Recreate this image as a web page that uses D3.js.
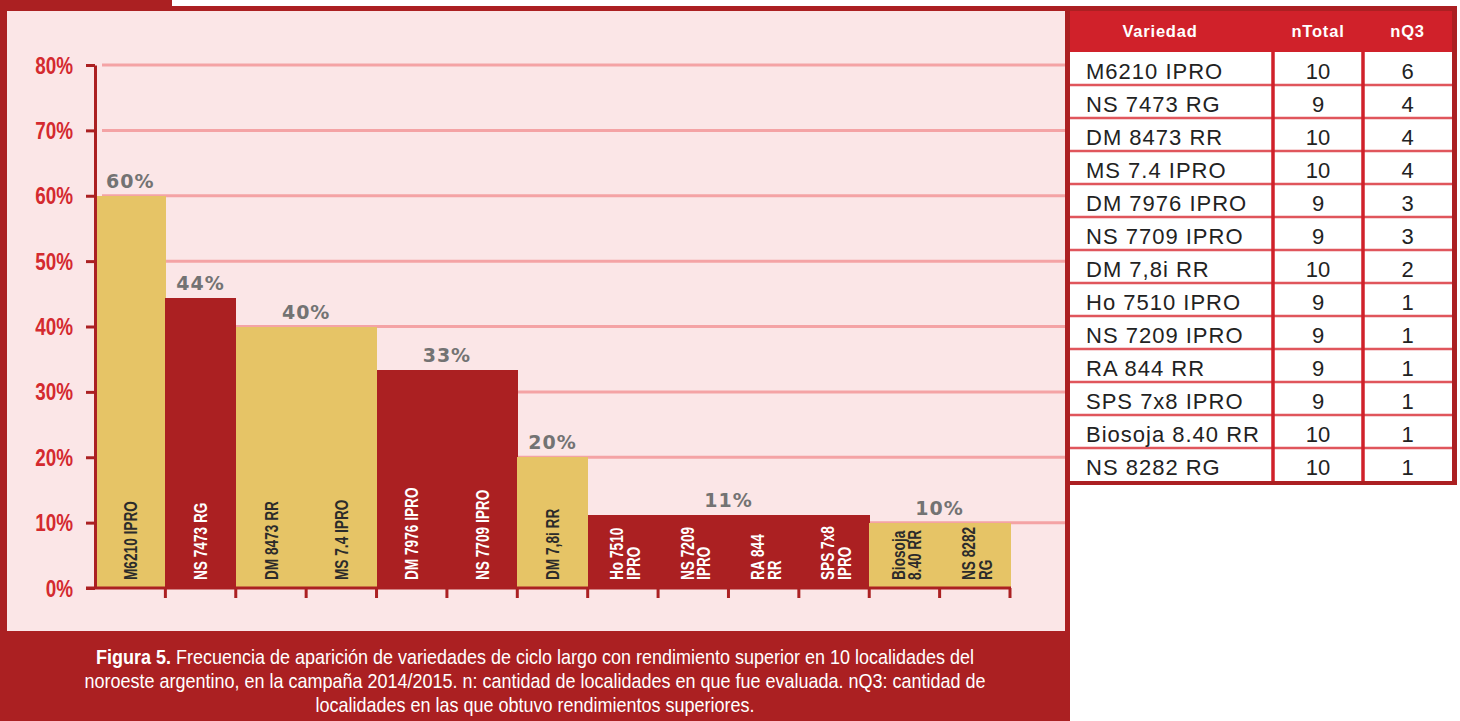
<!DOCTYPE html>
<html>
<head>
<meta charset="utf-8">
<script src="https://cdn.jsdelivr.net/npm/d3@7"></script>
<style>
  body { margin: 0; background: #fff; }
  svg { display: block; }
</style>
</head>
<body>
<svg width="1460" height="721"></svg>
<script>
// data
var varieties = ['M6210 IPRO', 'NS 7473 RG', 'DM 8473 RR', 'MS 7.4 IPRO', 'DM 7976 IPRO', 'NS 7709 IPRO',
  'DM 7,8i RR', 'Ho 7510 IPRO', 'NS 7209 IPRO', 'RA 844 RR', 'SPS 7x8 IPRO', 'Biosoja 8.40 RR', 'NS 8282 RG'];
var barLabels = [['M6210 IPRO'], ['NS 7473 RG'], ['DM 8473 RR'], ['MS 7.4 IPRO'], ['DM 7976 IPRO'], ['NS 7709 IPRO'],
  ['DM 7,8i RR'], ['Ho 7510', 'IPRO'], ['NS 7209', 'IPRO'], ['RA 844', 'RR'], ['SPS 7x8', 'IPRO'], ['Biosoja', '8.40 RR'], ['NS 8282', 'RG']];
var frequency = [60, 44.4, 40, 40, 33.3, 33.3, 20, 11.1, 11.1, 11.1, 11.1, 10, 10];
var nTotal = [10, 9, 10, 10, 9, 9, 10, 9, 9, 9, 9, 10, 10];
var nQ3 = [6, 4, 4, 4, 3, 3, 2, 1, 1, 1, 1, 1, 1];
var yTicks = [0, 10, 20, 30, 40, 50, 60, 70, 80];
var tableHeader = ['Variedad', 'nTotal', 'nQ3'];
var captionLines = [
  ['Figura 5.', ' Frecuencia de aparición de variedades de ciclo largo con rendimiento superior en 10 localidades del'],
  ['', 'noroeste argentino, en la campaña 2014/2015. n: cantidad de localidades en que fue evaluada. nQ3: cantidad de'],
  ['', 'localidades en las que obtuvo rendimientos superiores.']
];

var darkRed = '#ab2022';
var brightRed = '#d0212a';
var gold = '#e6c466';
var sans = '"Liberation Sans", Arial, sans-serif';
var squeeze = 0.82; // no narrow font here, so squeeze Liberation Sans

var svg = d3.select('svg');

// frame
svg.append('rect').attr('x', 0).attr('y', 0).attr('width', 172).attr('height', 12).attr('fill', darkRed);
svg.append('rect').attr('x', 0).attr('y', 6).attr('width', 1457).attr('height', 5).attr('fill', '#b3282b');
svg.append('rect').attr('x', 0).attr('y', 6).attr('width', 1070).attr('height', 715).attr('fill', darkRed);
svg.append('rect').attr('x', 7).attr('y', 11).attr('width', 1058).attr('height', 620).attr('fill', '#fbe6e7');

var x = d3.scaleBand().domain(varieties).range([95, 1010]).padding(0);
var y = d3.scaleLinear().domain([0, 80]).range([588, 65]);
var bw = x.bandwidth();

// gridlines
svg.append('g').selectAll('line').data(yTicks.filter(function (d) { return d > 0; })).enter().append('line')
  .attr('x1', 102).attr('x2', 1065).attr('y1', function (d) { return y(d); }).attr('y2', function (d) { return y(d); })
  .attr('stroke', '#f4a3a5').attr('stroke-width', 3);

// groups of consecutive equal values
var groups = [];
frequency.forEach(function (v, i) {
  var last = groups[groups.length - 1];
  if (last && last.value === v) last.end = i;
  else groups.push({ value: v, start: i, end: i });
});
var groupOf = frequency.map(function (v, i) {
  return groups.findIndex(function (g) { return i >= g.start && i <= g.end; });
});
function barColor(i) { return groupOf[i] % 2 === 0 ? gold : darkRed; }

// bars
svg.append('g').selectAll('rect').data(varieties).enter().append('rect')
  .attr('x', function (d) { return x(d); })
  .attr('y', function (d, i) { return y(frequency[i]); })
  .attr('width', bw + 0.6)
  .attr('height', function (d, i) { return y(0) - y(frequency[i]); })
  .attr('fill', function (d, i) { return barColor(i); })
  .attr('shape-rendering', 'crispEdges');

// labels inside bars
var lab = svg.append('g').selectAll('text').data(varieties).enter().append('text')
  .attr('transform', function (d) { return 'translate(' + (x(d) + bw / 2) + ',580) rotate(-90) scale(0.78,1)'; })
  .attr('font-family', sans).attr('font-weight', 'bold').attr('font-size', 17.5)
  .attr('fill', function (d, i) { return barColor(i) === gold ? '#2b2b2b' : '#ffffff'; })
  .attr('dominant-baseline', 'central');
lab.each(function (d, i) {
  var lines = barLabels[i];
  var t = d3.select(this);
  lines.forEach(function (s, k) {
    t.append('tspan').attr('x', 0).attr('y', (k - (lines.length - 1) / 2) * 16.5 + (lines.length > 1 ? 2 : 0)).text(s);
  });
});

// value labels
svg.append('g').selectAll('text').data(groups).enter().append('text')
  .attr('x', function (g) { return (x(varieties[g.start]) + x(varieties[g.end]) + bw) / 2; })
  .attr('y', function (g) { return y(g.value) - 8; })
  .attr('text-anchor', 'middle')
  .attr('font-family', '"DejaVu Sans", sans-serif').attr('font-weight', 'bold').attr('font-size', 19)
  .attr('letter-spacing', 1)
  .attr('fill', '#737373')
  .text(function (g) { return Math.round(g.value) + '%'; });

// y axis (labels drawn separately so they can be squeezed)
var yAxis = svg.append('g').attr('transform', 'translate(95,0)')
  .call(d3.axisLeft(y).tickValues(yTicks).tickSize(9).tickSizeOuter(0).tickFormat(''));
yAxis.select('.domain').attr('stroke', darkRed).attr('stroke-width', 3);
yAxis.selectAll('.tick line').attr('stroke', darkRed).attr('stroke-width', 3);
svg.append('g').selectAll('text').data(yTicks).enter().append('text')
  .attr('transform', function (d) { return 'translate(73,' + y(d) + ') scale(' + squeeze + ',1)'; })
  .attr('dy', 8.5).attr('text-anchor', 'end')
  .attr('fill', '#d42a2f').attr('font-family', sans).attr('font-weight', 'bold').attr('font-size', 23)
  .text(function (d) { return d + '%'; });

// x axis line and boundary ticks
svg.append('line').attr('x1', 86).attr('x2', 1011).attr('y1', y(0)).attr('y2', y(0))
  .attr('stroke', darkRed).attr('stroke-width', 3);
svg.append('g').selectAll('line').data(varieties).enter().append('line')
  .attr('x1', function (d) { return x(d) + bw; }).attr('x2', function (d) { return x(d) + bw; })
  .attr('y1', y(0)).attr('y2', y(0) + 10)
  .attr('stroke', darkRed).attr('stroke-width', 3);

// table
var tx0 = 1070, tx1 = 1452, ty0 = 11, headH = 41, rowH = 33;
var colX = [tx0, 1273, 1363, tx1];
svg.append('rect').attr('x', 1065).attr('y', 6).attr('width', 392).attr('height', 479).attr('fill', darkRed);
svg.append('rect').attr('x', tx0).attr('y', ty0).attr('width', tx1 - tx0).attr('height', headH).attr('fill', brightRed);
svg.append('rect').attr('x', tx0).attr('y', ty0 + headH).attr('width', tx1 - tx0).attr('height', rowH * varieties.length)
  .attr('fill', '#ffffff');

svg.append('g').selectAll('text').data(tableHeader).enter().append('text')
  .attr('x', function (d, i) { return i === 0 ? 1160 : (colX[i] + colX[i + 1]) / 2; })
  .attr('y', 37).attr('text-anchor', 'middle')
  .attr('font-family', sans).attr('font-weight', 'bold').attr('font-size', 16.5)
  .attr('letter-spacing', 0.8).attr('fill', '#ffffff').text(function (d) { return d; });

// row separators
svg.append('g').selectAll('line').data(varieties.slice(1)).enter().append('line')
  .attr('x1', tx0).attr('x2', tx1)
  .attr('y1', function (d, i) { return ty0 + headH + rowH * (i + 1); })
  .attr('y2', function (d, i) { return ty0 + headH + rowH * (i + 1); })
  .attr('stroke', '#e0565c').attr('stroke-width', 2.5);
// column dividers
svg.append('g').selectAll('line').data([colX[1], colX[2]]).enter().append('line')
  .attr('x1', function (d) { return d; }).attr('x2', function (d) { return d; })
  .attr('y1', ty0 + headH).attr('y2', ty0 + headH + rowH * varieties.length)
  .attr('stroke', brightRed).attr('stroke-width', 3.5);

var rows = svg.append('g').selectAll('g').data(varieties).enter().append('g')
  .attr('transform', function (d, i) { return 'translate(0,' + (ty0 + headH + rowH * i + 27) + ')'; })
  .attr('font-family', sans).attr('font-size', 22).attr('fill', '#222222');
rows.append('text').attr('x', 1086).attr('letter-spacing', 1).text(function (d) { return d; });
rows.append('text').attr('x', (colX[1] + colX[2]) / 2).attr('text-anchor', 'middle')
  .text(function (d, i) { return nTotal[i]; });
rows.append('text').attr('x', (colX[2] + colX[3]) / 2).attr('text-anchor', 'middle')
  .text(function (d, i) { return nQ3[i]; });

// caption
var cap = svg.append('text').attr('text-anchor', 'middle').attr('font-family', sans)
  .attr('transform', 'translate(535,0) scale(0.9,1)')
  .attr('font-size', 20).attr('fill', '#ffffff');
captionLines.forEach(function (ln, i) {
  var t = cap.append('tspan').attr('x', 0).attr('y', 664 + i * 24);
  if (ln[0]) {
    t.attr('font-weight', 'bold').text(ln[0]);
    cap.append('tspan').text(ln[1]);
  } else {
    t.text(ln[1]);
  }
});
</script>
</body>
</html>
